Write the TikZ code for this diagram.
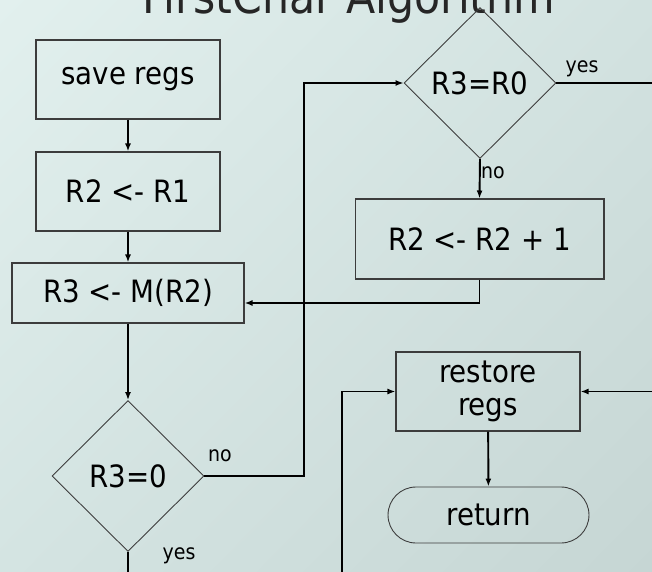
\documentclass[tikz,border=0pt]{standalone}
\usepackage{fontspec}
\setmainfont{DejaVu Sans Condensed}
\usepackage{tikz}
\usetikzlibrary{shapes.geometric,shapes.misc,arrows.meta,shadings}

\definecolor{bgtl}{RGB}{226,240,238}
\definecolor{bgbr}{RGB}{198,214,212}
\definecolor{bgtr}{RGB}{210,226,224}
\definecolor{bgbl}{RGB}{212,228,226}
\definecolor{boxline}{RGB}{60,60,60}

\begin{document}
\begin{tikzpicture}[x = 0.02cm, y = -0.02cm,
    proc/.style = {draw = boxline, line width = 0.6pt, font = \fontsize{17.5}{19}\selectfont,
                   minimum width = 3.68cm, minimum height = 1.58cm, inner sep = 0pt, align = center},
    test/.style = {diamond, draw = boxline, line width = 0.5pt, font = \fontsize{17.5}{19}\selectfont,
                   minimum width = 3.04cm, minimum height = 3.02cm, inner sep = 0pt},
    term/.style = {rounded rectangle, draw = boxline, line width = 0.5pt, font = \fontsize{17.5}{19}\selectfont,
                   minimum width = 4.02cm, minimum height = 1.12cm, inner sep = 0pt},
    flow/.style = {line width = 1.1pt, -{Latex[length = 0.16cm, width = 0.12cm]}},
    lbl/.style = {font = \fontsize{12}{14}\selectfont}]

    \useasboundingbox (0,0) rectangle (652,571);
    \shade[upper left = bgtl, upper right = bgtr, lower left = bgbl, lower right = bgbr]
        (0,0) rectangle (652,571);

    \node[anchor = base, font = \fontsize{27}{30}\selectfont, text = black!85] (title)
        at (349,14) {FirstChar Algorithm};

    % left column
    \node[proc] (save) at (128,79.5) {save regs};
    \node[proc] (r2r1) at (128,191.5) {R2 <- R1};
    \node[proc, minimum width = 4.64cm, minimum height = 1.2cm] (r3m) at (128,293) {R3 <- M(R2)};
    \node[test] (r3z) at (128,476) {R3=0};

    % right column
    \node[test] (r3r0) at (480,83) {R3=R0};
    \node[proc, minimum width = 4.98cm, minimum height = 1.6cm] (inc) at (479.5,239) {R2 <- R2 + 1};
    \node[proc] (restore) at (488,391.5) {restore\\regs};
    \node[term] (ret) at (488.5,515) {return};

    \coordinate (noup) at (304,476);
    \coordinate (yesout) at (670,83);
    \coordinate (loopdown) at (342,600);

    \draw[flow] (save) -- (r2r1);
    \draw[flow] (r2r1) -- (r3m);
    \draw[flow] (r3m) -- (r3z);
    \draw[flow] (r3z.east) -- (noup) |- (r3r0.west);
    \draw[flow] (r3r0.south) -- (inc.north);
    \draw[flow] (inc.south) |- ([yshift = -0.2cm]r3m.east);
    \draw[flow] (r3r0.east) -- (yesout) |- (restore.east);
    \draw[flow] (r3z.south) |- (loopdown) |- (restore.west);
    \draw[flow] (restore) -- (ret);

    \node[lbl] (lno1) at (220,456) {no};
    \node[lbl] (lyes1) at (179,556) {yes};
    \node[lbl] (lyes2) at (582,69) {yes};
    \node[lbl] (lno2) at (493,173) {no};

\end{tikzpicture}
\end{document}
